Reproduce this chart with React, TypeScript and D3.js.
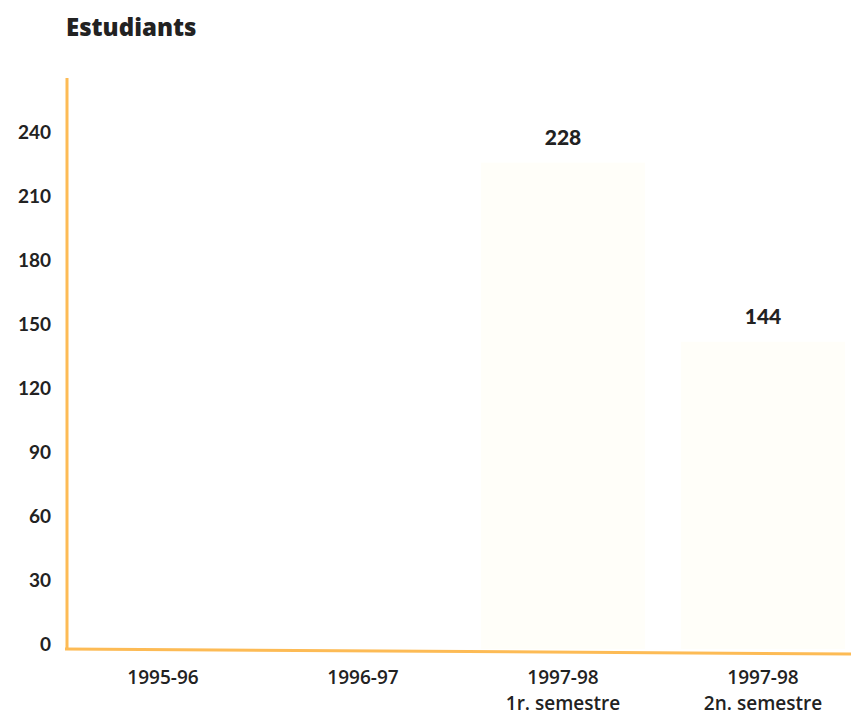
import React, { useEffect, useRef } from 'react';
import * as d3 from 'd3';

const categories = ['1995-96', '1996-97', '1997-98\n1r. semestre', '1997-98\n2n. semestre'];
const values: (number | null)[] = [null, null, 228, 144];
const yTicks = [0, 30, 60, 90, 120, 150, 180, 210, 240];

const App: React.FC = () => {
  const svgRef = useRef<SVGSVGElement>(null);

  useEffect(() => {
    if (!svgRef.current) return;
    const svg = d3.select(svgRef.current);
    svg.selectAll('*').remove();

    const width = 851;
    const height = 717;
    const axisColor = '#fdbb55';
    const font = 'Lato, "Open Sans", sans-serif';

    const x = d3.scaleBand<string>()
      .domain(categories)
      .range([63, 863])
      .paddingInner(0.18)
      .paddingOuter(0.09);

    const y = d3.scaleLinear()
      .domain([0, 240])
      .range([649, 137]);

    svg.attr('width', width).attr('height', height);

    // title
    svg.append('text')
      .attr('x', 66)
      .attr('y', 36)
      .attr('font-family', '"Open Sans", sans-serif')
      .attr('font-weight', 800)
      .attr('font-size', 24)
      .attr('fill', '#222')
      .text('Estudiants');

    // bars (almost invisible in the scan)
    const data = categories.map((c, i) => ({ c, v: values[i] }));
    svg.append('g')
      .selectAll('rect')
      .data(data.filter(d => d.v !== null))
      .join('rect')
      .attr('x', d => x(d.c)!)
      .attr('width', x.bandwidth())
      .attr('y', d => y(d.v as number))
      .attr('height', d => y(0) - y(d.v as number))
      .attr('fill', '#fffef9');

    // value labels
    svg.append('g')
      .selectAll('text')
      .data(data.filter(d => d.v !== null))
      .join('text')
      .attr('x', d => x(d.c)! + x.bandwidth() / 2)
      .attr('y', d => y(d.v as number) - 18)
      .attr('text-anchor', 'middle')
      .attr('font-family', font)
      .attr('font-weight', 900)
      .attr('font-size', 21)
      .attr('fill', '#222')
      .text(d => String(d.v));

    // y axis
    const yAxis = svg.append('g')
      .attr('transform', 'translate(67,0)')
      .call(d3.axisLeft(y).tickValues(yTicks).tickSize(0).tickPadding(16));
    yAxis.select('.domain').remove();
    yAxis.selectAll('text')
      .attr('font-family', font)
      .attr('font-weight', 700)
      .attr('font-size', 19)
      .attr('fill', '#222')
      .attr('dy', '0.1em');

    svg.append('line')
      .attr('x1', 67).attr('x2', 67)
      .attr('y1', 78).attr('y2', y(0))
      .attr('stroke', axisColor)
      .attr('stroke-width', 3);

    svg.append('line')
      .attr('x1', 65).attr('x2', width)
      .attr('y1', y(0)).attr('y2', y(0) + 5)
      .attr('stroke', axisColor)
      .attr('stroke-width', 3);

    // x labels
    const xl = svg.append('g')
      .selectAll('text')
      .data(categories)
      .join('text')
      .attr('y', 684)
      .attr('text-anchor', 'middle')
      .attr('font-family', '"Open Sans", sans-serif')
      .attr('font-weight', 600)
      .attr('font-size', 19)
      .attr('fill', '#222');
    xl.each(function (d) {
      const t = d3.select(this);
      d.split('\n').forEach((line, i) => {
        t.append('tspan')
          .attr('x', x(d)! + x.bandwidth() / 2)
          .attr('dy', i === 0 ? 0 : 26)
          .text(line);
      });
    });
  }, []);

  return (
    <div style={{ position: 'fixed', left: 0, top: 0, width: 851, height: 717, background: '#fff' }}>
      <svg ref={svgRef} style={{ display: 'block' }} />
    </div>
  );
};

export default App;
